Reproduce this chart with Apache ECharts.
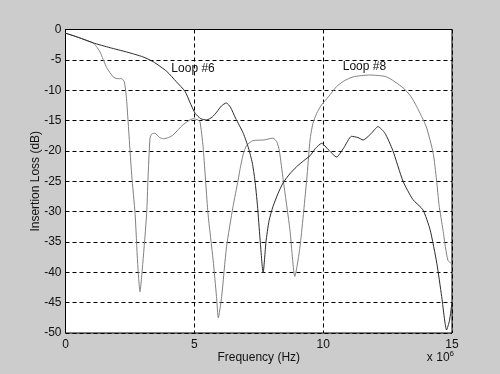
<!DOCTYPE html>
<html><head><meta charset="utf-8">
<script src="https://cdn.jsdelivr.net/npm/echarts@6/dist/echarts.min.js"></script>
<style>html,body{margin:0;padding:0;background:#cccccc}#c{width:500px;height:374px}</style>
</head><body><div id="c"></div>
<script>
// Frequency in units of 1e6 Hz, insertion loss in dB
const loop6 = [[0,-0.6],[0.5,-1.3],[1.07,-2.2],[1.73,-3.0],[2.37,-3.7],[3.0,-4.5],[3.4,-5.3],[3.93,-6.9],[4.3,-8.6],[4.64,-10.2],[4.83,-12.0],[5.03,-13.8],[5.25,-14.7],[5.48,-14.9],[5.7,-14.4],[5.87,-13.6],[6.05,-12.6],[6.24,-12.1],[6.4,-12.8],[6.6,-14.6],[6.9,-17.1],[7.1,-19.5],[7.25,-22],[7.35,-24.8],[7.45,-29],[7.55,-34.5],[7.67,-40.1],[7.78,-35],[7.9,-31.5],[8.05,-29.2],[8.25,-27],[8.44,-25.3],[8.7,-23.8],[8.97,-22.6],[9.25,-21.6],[9.49,-20.8],[9.7,-19.6],[9.94,-18.75],[10.2,-19.8],[10.52,-21],[10.8,-19.5],[11.1,-17.6],[11.35,-17.8],[11.55,-18.2],[11.85,-17.2],[12.13,-16],[12.4,-17.1],[12.7,-19.9],[13.1,-25],[13.48,-28],[13.87,-29.7],[14.15,-33],[14.41,-38.5],[14.6,-44],[14.79,-49.5],[14.9,-48],[15,-45]];
const loop8 = [[0,-0.6],[0.5,-1.3],[1.07,-2.2],[1.2,-2.8],[1.34,-3.7],[1.6,-6.3],[1.85,-7.8],[2.0,-8.1],[2.18,-8.1],[2.28,-8.6],[2.36,-11],[2.43,-15.2],[2.57,-24],[2.7,-30.3],[2.8,-38.5],[2.89,-43.2],[3.0,-38.5],[3.15,-30.3],[3.2,-24.8],[3.28,-17.9],[3.35,-17.2],[3.47,-17.1],[3.65,-17.8],[3.8,-18.0],[4.0,-17.8],[4.17,-17.4],[4.56,-15.7],[4.95,-14.7],[5.14,-14.9],[5.22,-15.2],[5.34,-19.3],[5.53,-30.3],[5.73,-38],[5.86,-44],[5.93,-47.5],[6.06,-44],[6.25,-35.8],[6.5,-29.2],[6.7,-24.8],[6.77,-23.1],[6.9,-20.5],[7.03,-19.1],[7.28,-18.3],[7.7,-18.2],[8.05,-17.9],[8.2,-18.5],[8.3,-20],[8.45,-24.8],[8.71,-33],[8.9,-40.7],[9.1,-35.8],[9.36,-24.8],[9.49,-18.2],[9.6,-15.5],[9.75,-13.8],[9.94,-12.4],[10.2,-11.1],[10.52,-9.4],[10.8,-8.5],[11.16,-7.8],[11.8,-7.5],[12.46,-7.8],[13.1,-9.6],[13.4,-11],[13.63,-12.7],[14.0,-16],[14.27,-20.4],[14.4,-24.8],[14.5,-29],[14.65,-33],[14.75,-36],[14.84,-38],[14.92,-38.4],[15,-38.5]];
const xTicks = [0,5,10,15];
const yTicks = [0,-5,-10,-15,-20,-25,-30,-35,-40,-45,-50];
const annotations = [{text:'Loop #6', x:4.95, y:-6.4},{text:'Loop #8', x:11.6, y:-6.2}];

const chart = echarts.init(document.getElementById('c'));
const font = 'Liberation Sans, Arial, sans-serif';
const dash = {type:[4,3], color:'#000', width:1};
chart.setOption({
  backgroundColor:'#cccccc',
  animation:false,
  grid:{left:65.5,right:48,top:29.5,bottom:41,show:true,backgroundColor:'#ffffff',borderColor:'#000',borderWidth:1},
  xAxis:{type:'value',min:xTicks[0],max:xTicks[xTicks.length-1],interval:5,
    axisLine:{show:false},axisTick:{show:false},
    axisLabel:{color:'#111',fontSize:12,fontFamily:font,margin:6},
    splitLine:{show:true,lineStyle:dash},
    name:'Frequency (Hz)',nameLocation:'middle',nameGap:19,nameMoveOverlap:false,
    nameTextStyle:{color:'#111',fontSize:12,fontFamily:font}},
  yAxis:{type:'value',min:yTicks[yTicks.length-1],max:yTicks[0],interval:5,
    axisLine:{show:false},axisTick:{show:false},
    axisLabel:{color:'#111',fontSize:12,fontFamily:font,margin:4},
    splitLine:{show:true,lineStyle:dash},
    name:'Insertion Loss (dB)',nameLocation:'middle',nameGap:24,nameMoveOverlap:false,
    nameTextStyle:{color:'#111',fontSize:12,fontFamily:font}},
  series:[
    {type:'line',data:loop8,showSymbol:false,smooth:0.2,lineStyle:{color:'#808080',width:1},z:3},
    {type:'line',data:loop6,showSymbol:false,smooth:0.2,lineStyle:{color:'#2a2a2a',width:1},z:4,
     markPoint:{symbol:'circle',symbolSize:0,
       label:{show:true,position:'inside',color:'#111',fontSize:12,fontFamily:font,formatter:p=>p.name},
       data:annotations.map(a=>({name:a.text,coord:[a.x,a.y]}))}}
  ],
  graphic:[{type:'text',right:46,bottom:10,style:{
    text:'x 10{s|6}',fill:'#111',font:'12px '+font,
    rich:{s:{fontSize:8,verticalAlign:'top',padding:[0,0,8,0],fill:'#111',fontFamily:font}}}}]
});
</script></body></html>
